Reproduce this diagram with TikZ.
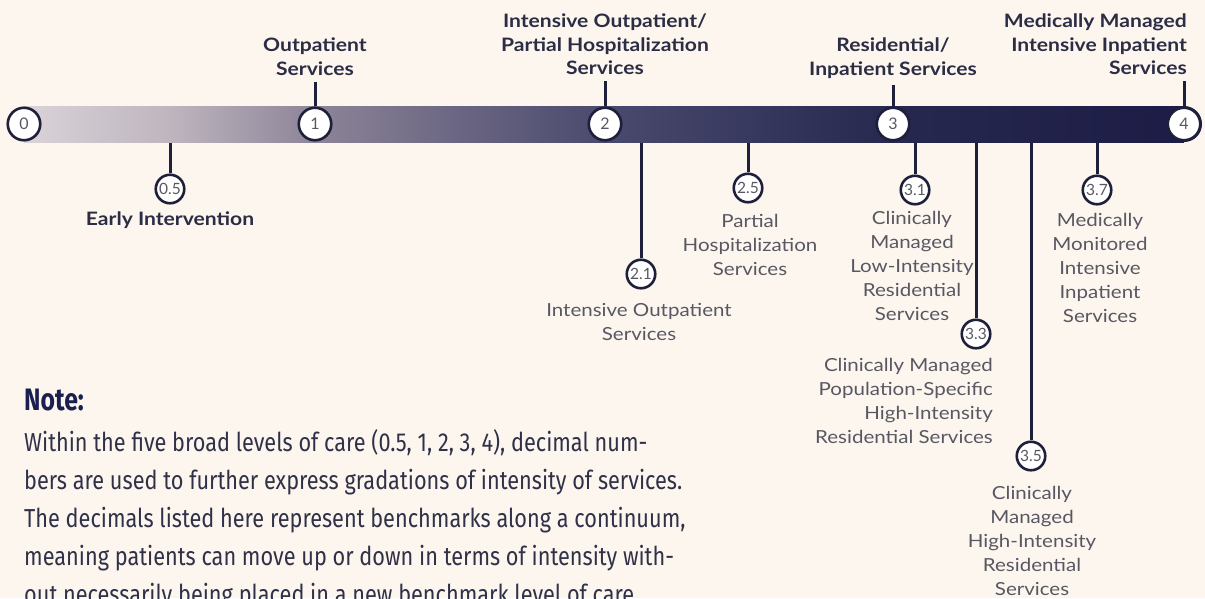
\documentclass[tikz,border=0pt]{standalone}
\usepackage{fontspec}
\setmainfont[FakeStretch=1.14]{Lato}
\newfontfamily\numfont{Lato}
\newfontfamily\notefont[FakeStretch=0.835]{Fira Sans}
\newfontfamily\headfont[FakeStretch=0.8]{Fira Sans}
\usetikzlibrary{positioning}
\definecolor{paper}{HTML}{FDF6EF}
\definecolor{ink}{HTML}{1E1F3A}
\definecolor{label}{HTML}{2B2D45}
\definecolor{grey}{HTML}{585862}
\definecolor{notetext}{HTML}{2F3148}
\definecolor{notehead}{HTML}{1A1F4F}
\definecolor{c0}{HTML}{DAD3D8}
\definecolor{c1}{HTML}{BEB5BF}
\definecolor{c2}{HTML}{8D8598}
\definecolor{c3}{HTML}{6A6582}
\definecolor{c4}{HTML}{4A4A6E}
\definecolor{c5}{HTML}{27284F}
\definecolor{c6}{HTML}{1C1C46}
\pgfdeclarehorizontalshading{barshade}{100bp}{color(0bp)=(c0); color(25bp)=(c0); color(31.3bp)=(c1); color(37.5bp)=(c2); color(43.8bp)=(c3); color(50bp)=(c4); color(62.5bp)=(c5); color(75bp)=(c6); color(100bp)=(c6)}

\begin{document}
\begin{tikzpicture}[x=1pt,y=-1pt,every node/.style={inner sep=0pt},
  lvl/.style={circle,draw=ink,fill=white,line width=2.6pt,minimum size=32.5pt,font=\numfont\fontsize{16}{16}\selectfont,text=grey},
  sub/.style={circle,draw=ink,fill=white,line width=2.6pt,minimum size=28.5pt,font=\numfont\fontsize{15.5}{15.5}\selectfont,text=grey},
  up/.style={align=center,font=\bfseries\fontsize{18.5}{23.5}\selectfont,text=label},
  dn/.style={align=center,font=\fontsize{18}{24}\selectfont,text=grey},
  stem/.style={ink,line width=3pt}]
\fill[paper] (0,0) rectangle (1205,598);
\useasboundingbox (0,0) rectangle (1205,598);

% labels above the bar
\node[up,anchor=north] (t1) at (315,38) {Outpatient\\Services};
\node[up,anchor=north] (t2) at (605,14) {Intensive Outpatient/\\Partial Hospitalization\\Services};
\node[up,anchor=north] (t3) at (893,38) {Residential/\\Inpatient Services};
\node[up,anchor=north east,align=right] (t4) at (1187,14) {Medically Managed\\Intensive Inpatient\\Services};

% feet of the stems under the bar
\coordinate (b05) at (170,140); \coordinate (b21) at (641,140);
\coordinate (b25) at (748,140); \coordinate (b31) at (915,140);
\coordinate (b33) at (976,140); \coordinate (b35) at (1031,140);
\coordinate (b37) at (1097,140);

% sub levels
\node[sub] (s05) at (170,189) {0.5};
\node[sub] (s21) at (641,274) {2.1};
\node[sub] (s25) at (748,188) {2.5};
\node[sub] (s31) at (915,190) {3.1};
\node[sub] (s33) at (976,334) {3.3};
\node[sub] (s35) at (1031,456) {3.5};
\node[sub] (s37) at (1097,190) {3.7};
\foreach \s in {05,21,25,31,33,35,37} \draw[stem] (b\s) -- (s\s);

% the bar
\shade[shading=barshade] (24,106) rectangle (1184,142);
\fill[c6] (1184,124) circle[radius=18];
\node[lvl] (l0) at (24,124) {0};
\node[lvl] (l1) at (315,124) {1};
\node[lvl] (l2) at (605,124) {2};
\node[lvl] (l3) at (893,124) {3};
\node[lvl] (l4) at (1184,124) {4};
\foreach \n in {1,2,3} \draw[stem,shorten <=6pt] (t\n.south) -- (l\n);
\draw[stem,shorten <=6pt] (t4.south -| l4) -- (l4);

% labels under the sub levels
\node[up,anchor=north] (e05) at (170,212) {Early Intervention};
\node[dn,anchor=north] (e21) at (639,303) {Intensive Outpatient\\Services};
\node[dn,anchor=north] (e25) at (750,214) {Partial\\Hospitalization\\Services};
\node[dn,anchor=north] (e31) at (912,211) {Clinically\\Managed\\Low-Intensity\\Residential\\Services};
\node[dn,anchor=north east,align=right] (e33) at (993,358) {Clinically Managed\\Population-Specific\\High-Intensity\\Residential Services};
\node[dn,anchor=north] (e35) at (1032,486) {Clinically\\Managed\\High-Intensity\\Residential\\Services};
\node[dn,anchor=north] (e37) at (1100,213) {Medically\\Monitored\\Intensive\\Inpatient\\Services};

% note
\node[anchor=base west,font=\headfont\bfseries\fontsize{31}{31}\selectfont,text=notehead] (nh) at (24,410) {Note:};
\node[anchor=north west,align=left,font=\notefont\fontsize{26}{38}\selectfont,text=notetext] (nb) at (24,429) {Within the five broad levels of care (0.5, 1, 2, 3, 4), decimal num-\\bers are used to further express gradations of intensity of services.\\The decimals listed here represent benchmarks along a continuum,\\meaning patients can move up or down in terms of intensity with-\\out necessarily being placed in a new benchmark level of care.};
\end{tikzpicture}
\end{document}
